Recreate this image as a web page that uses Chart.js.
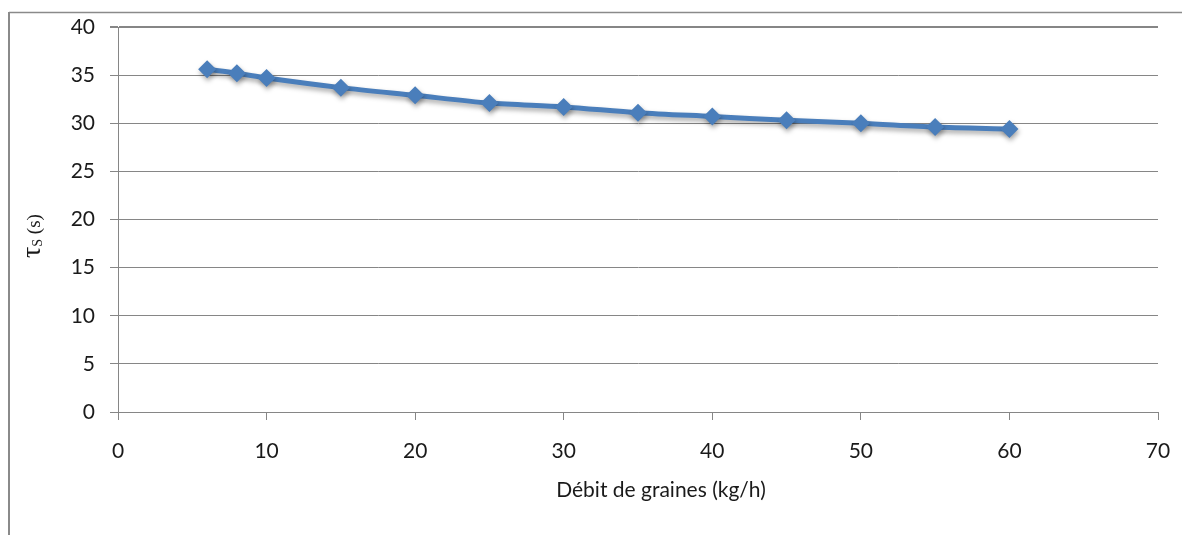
<!DOCTYPE html>
<html>
<head>
<meta charset="utf-8">
<script src="https://cdn.jsdelivr.net/npm/chart.js@4.4.1/dist/chart.umd.min.js"></script>
<style>
    html, body { margin: 0; padding: 0; background: #fff; }
    #wrap { width: 1182px; height: 535px; }
</style>
</head>
<body>
<div id="wrap"><canvas id="chart" width="1182" height="535"></canvas></div>
<script>
// seed flow (kg/h) against residence time tau_s (s)
const debit = [6, 8, 10, 15, 20, 25, 30, 35, 40, 45, 50, 55, 60];
const tauS = [35.6, 35.2, 34.7, 33.7, 32.9, 32.1, 31.7, 31.1, 30.7, 30.3, 30.0, 29.6, 29.4];
const xTitle = 'Débit de graines (kg/h)';

const gridGrey = '#868686';
const lineBlue = '#4a7ebb';

const points = debit.map((d, i) => ({ x: d, y: tauS[i] }));

// outer frame (left + top edges) behind everything
const frame = {
    id: 'frame',
    beforeDraw(chart) {
        const c = chart.ctx;
        c.save();
        c.strokeStyle = '#8a8a8a';
        c.lineWidth = 2;
        c.beginPath();
        c.moveTo(9, 535);
        c.lineTo(9, 12);
        c.stroke();
        c.lineWidth = 1.5;
        c.beginPath();
        c.moveTo(9, 12.5);
        c.lineTo(1182, 12.5);
        c.stroke();
        c.restore();
    }
};

// soft drop shadow under the series, like the spreadsheet style
const shadow = {
    id: 'shadow',
    beforeDatasetsDraw(chart) {
        const c = chart.ctx;
        c.save();
        c.shadowColor = 'rgba(0,0,0,0.35)';
        c.shadowBlur = 5;
        c.shadowOffsetX = 1;
        c.shadowOffsetY = 3;
    },
    afterDatasetsDraw(chart) {
        chart.ctx.restore();
    }
};

// axis titles: x centred under the plot, y rotated with a subscript
const titles = {
    id: 'titles',
    afterDraw(chart) {
        const c = chart.ctx;
        c.save();
        c.fillStyle = '#1a1a1a';
        c.font = '21px Lato';
        c.textAlign = 'center';
        c.textBaseline = 'middle';
        c.fillText(xTitle, 661, 490);

        c.translate(33, 236);
        c.rotate(-Math.PI / 2);
        c.textBaseline = 'alphabetic';
        c.textAlign = 'left';
        const parts = [
            { t: 'τ', f: '28px "Liberation Serif"', dy: 0 },
            { t: 'S', f: '14px "Liberation Serif"', dy: 2 },
            { t: ' (s)', f: '19px "Liberation Serif"', dy: 0 }
        ];
        let total = 0;
        parts.forEach(p => { c.font = p.f; total += c.measureText(p.t).width; });
        let x = -total / 2;
        parts.forEach(p => {
            c.font = p.f;
            c.fillText(p.t, x, 7 + p.dy);
            x += c.measureText(p.t).width;
        });
        c.restore();
    }
};

Chart.defaults.font.family = 'Lato';
Chart.defaults.font.size = 21;
Chart.defaults.color = '#1a1a1a';

new Chart(document.getElementById('chart').getContext('2d'), {
    type: 'line',
    data: {
        datasets: [{
            data: points,
            borderColor: lineBlue,
            backgroundColor: lineBlue,
            borderWidth: 5,
            tension: 0.3,
            pointStyle: 'rectRot',
            pointRadius: 9,
            pointHoverRadius: 9,
            pointBorderWidth: 0
        }]
    },
    plugins: [frame, shadow, titles],
    options: {
        responsive: false,
        animation: false,
        layout: { padding: { top: 27, right: 24, left: 0, bottom: 0 } },
        plugins: {
            legend: { display: false },
            tooltip: { enabled: false }
        },
        scales: {
            x: {
                type: 'linear',
                min: 0,
                max: 70,
                afterFit: s => {
                    s.height = 123;
                    s.paddingLeft = 0;
                    s.paddingRight = 0;
                },
                ticks: { stepSize: 10, padding: 19 },
                grid: {
                    drawOnChartArea: false,
                    tickLength: 8,
                    color: gridGrey
                },
                border: { color: gridGrey, width: 1 }
            },
            y: {
                min: 0,
                max: 40,
                afterFit: s => {
                    s.width = 118;
                    s.paddingTop = 0;
                    s.paddingBottom = 0;
                },
                ticks: { stepSize: 5, padding: 15 },
                grid: {
                    tickLength: 8,
                    color: gridGrey,
                    lineWidth: ctx => ctx.tick && ctx.tick.value === 40 ? 2 : 1
                },
                border: { color: gridGrey, width: 1 }
            }
        }
    }
});
</script>
</body>
</html>
